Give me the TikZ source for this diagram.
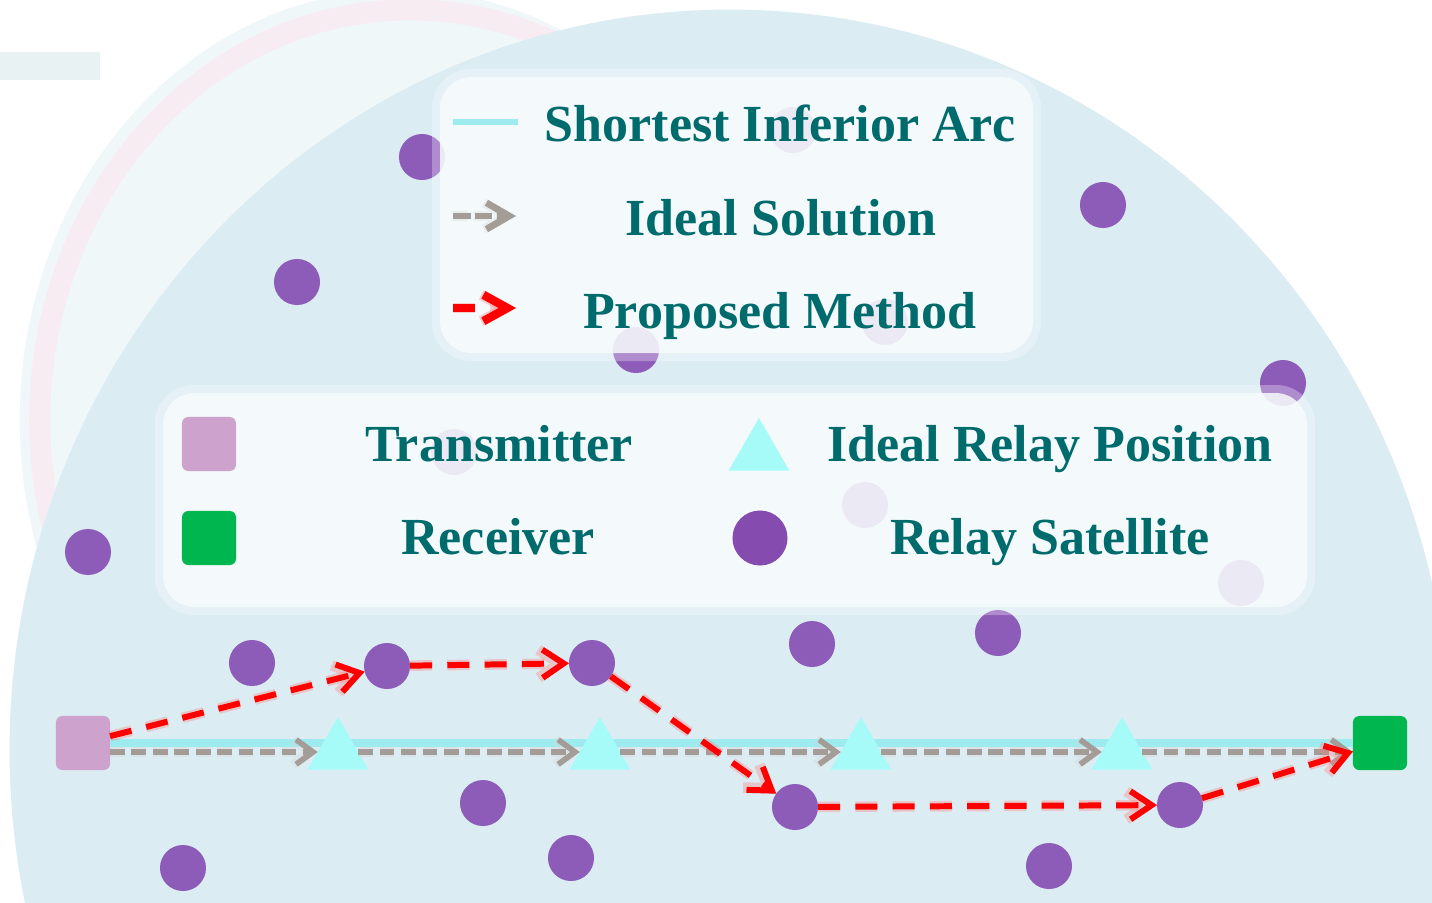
\documentclass[tikz,border=0pt]{standalone}
\usepackage{fontspec}
\setmainfont{Liberation Serif}
\usepackage{xcolor}
\definecolor{DiskBlue}{HTML}{DBECF3}
\definecolor{Haze}{HTML}{F0F7F9}
\definecolor{HazeBand}{HTML}{E9F2F2}
\definecolor{PinkRing}{HTML}{F8ECF3}
\definecolor{BoxFill}{HTML}{F7FBFC}
\definecolor{TealText}{HTML}{006B6D}
\definecolor{ArcCyan}{HTML}{9DEBEE}
\definecolor{RelayCyan}{HTML}{A6FBF9}
\definecolor{TxPink}{HTML}{CDA3CD}
\definecolor{RxGreen}{HTML}{00B64E}
\definecolor{SatPurple}{HTML}{8D5BB8}
\definecolor{SatDark}{HTML}{864BAE}
\definecolor{IdealGrey}{HTML}{A39C97}
\usetikzlibrary{arrows.meta, shapes.geometric, positioning}

\begin{document}
\begin{tikzpicture}[x=0.01cm, y=-0.01cm,
  sat/.style={circle, fill=SatPurple, minimum size=0.46cm, inner sep=0pt, outer sep=0pt},
  relay/.style={regular polygon, regular polygon sides=3, fill=RelayCyan,
                minimum size=0.70cm, inner sep=0pt, outer sep=0pt},
  station/.style={rectangle, rounded corners=1.8pt, minimum size=0.54cm,
                  inner sep=0pt, outer sep=0pt},
  lgbox/.style={rounded corners=9pt, fill=BoxFill, fill opacity=0.84},
  lghalo/.style={rounded corners=11pt, fill=white, fill opacity=0.3},
  lgtext/.style={font=\fontsize{14.8}{17}\selectfont\bfseries, text=TealText,
                 anchor=base, inner sep=0pt},
  arcline/.style={draw=ArcCyan, line width=2pt},
  ideal/.style={draw=IdealGrey, line width=1.6pt, dash pattern=on 4.2pt off 1.9pt,
                -{Straight Barb[length=4.8pt, width=7pt]},
                preaction={draw=IdealGrey!40, draw opacity=0.35, line width=2.6pt,
                           dash pattern=on 4.2pt off 1.9pt}},
  prop/.style={draw=red, line width=1.7pt, dash pattern=on 6.3pt off 4.3pt,
               -{Straight Barb[length=6pt, width=8pt]},
               preaction={draw=red!50, draw opacity=0.35, line width=3pt,
                          dash pattern=on 6.3pt off 4.3pt}}
]
\path[use as bounding box, clip] (0,0) rectangle (1432,902);
\fill[white] (0,0) rectangle (1432,902);

%% ---- faint earth behind the coverage disk ----
\fill[Haze] (400,420) ellipse [x radius=3.8cm, y radius=4.3cm];
\draw[PinkRing, line width=6pt] (410,420) ellipse [x radius=3.7cm, y radius=4.1cm];
\fill[HazeBand] (0,52) rectangle (100,80);

%% ---- coverage disk ----
\fill[DiskBlue] (730,750) ellipse [x radius=7.2cm, y radius=7.4cm];

%% ---- relay satellites ----
\node[sat] (sA) at (387,666) {};
\node[sat] (sB) at (592,663) {};
\node[sat] (sC) at (795,807) {};
\node[sat] (sD) at (1180,805) {};
\foreach \px/\py [count=\i] in {422/157, 297/282, 1103/205, 1283/383, 636/350,
    88/552, 252/663, 812/644, 998/633, 483/803, 183/868, 571/858, 1049/866,
    793/130, 885/322, 454/452, 865/505, 1241/583}
  \node[sat] (s\i) at (\px,\py) {};

%% ---- legend panels ----
\fill[lghalo] (432,69) rectangle (1041,361);
\fill[lgbox] (440,77) rectangle (1033,353);
\fill[lghalo] (155,385) rectangle (1315,615);
\fill[lgbox] (163,393) rectangle (1307,607);

%% ---- legend: line styles ----
\coordinate (la1) at (453,122);
\coordinate (la2) at (518,122);
\coordinate (lb1) at (453,216);
\coordinate (lb2) at (516,216);
\coordinate (lc1) at (453,308);
\coordinate (lc2) at (516,308);
\draw[arcline, line width=1.8pt] (la1) -- (la2);
\draw[ideal, line width=1.9pt, dash pattern=on 5pt off 1.2pt,
      -{Straight Barb[length=6.5pt, width=7.5pt]}] (lb1) -- (lb2);
\draw[prop, line width=2.4pt, dash pattern=on 6.3pt off 20pt,
      -{Straight Barb[length=6.8pt, width=7.5pt]}] (lc1) -- (lc2);
\node[lgtext] (tArc)  at (780,141) {Shortest Inferior Arc};
\node[lgtext] (tSol)  at (781,235) {Ideal Solution};
\node[lgtext] (tProp) at (780,328) {Proposed Method};

%% ---- legend: markers ----
\node[station, fill=TxPink]  (ltx)  at (209,444) {};
\node[station, fill=RxGreen] (lrx)  at (209,538) {};
\node[relay]                 (lrel) at (759,453) {};
\node[sat, fill=SatDark, minimum size=0.55cm] (lsat) at (760,538) {};
\node[lgtext] (tTx)    at (499,461)  {Transmitter};
\node[lgtext] (tRx)    at (498,554)  {Receiver};
\node[lgtext] (tRel)   at (1050,461) {Ideal Relay Position};
\node[lgtext] (tSat)   at (1050,554) {Relay Satellite};

%% ---- link: transmitter to receiver ----
\node[station, fill=TxPink]  (tx) at (83,743) {};
\node[station, fill=RxGreen] (rx) at (1380,743) {};
\draw[arcline] (tx) -- (rx);
\foreach \px [count=\i] in {338, 600, 861, 1122}
  \node[relay] (r\i) at (\px,752) {};

% ideal hops run just under the arc
\draw[ideal] (tx.east |- r1) -- (r1);
\draw[ideal] (r1) -- (r2);
\draw[ideal] (r2) -- (r3);
\draw[ideal] (r3) -- (r4);
\draw[ideal] (r4) -- (rx.west |- r4);

% proposed route through real satellites
\draw[prop] (tx) -- (sA);
\draw[prop] (sA) -- (sB);
\draw[prop] (sB) -- (sC);
\draw[prop] (sC) -- (sD);
\draw[prop] (sD) -- (rx);

\end{tikzpicture}
\end{document}
